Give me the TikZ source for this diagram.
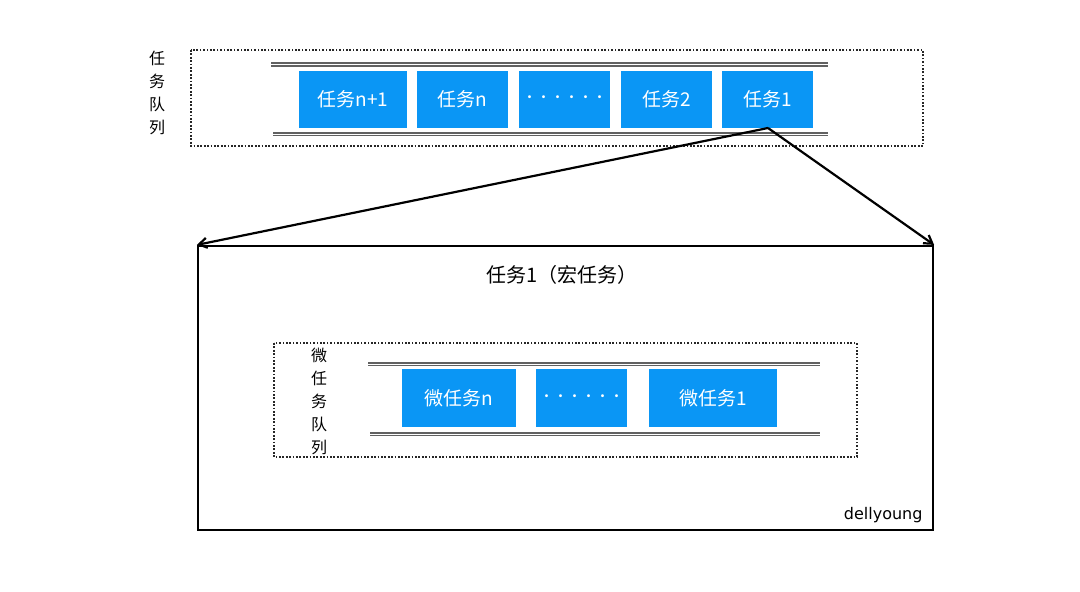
\documentclass[tikz,border=0pt]{standalone}
\usepackage{fontspec}
\newfontfamily\cjk{Noto Sans CJK SC}
\usetikzlibrary{arrows.meta}
\definecolor{taskblue}{HTML}{0A96F5}
\begin{document}
\begin{tikzpicture}[x=1pt,y=-1pt,
  task/.style={fill=taskblue,draw=none,text=white,font=\cjk\fontsize{19}{22}\selectfont,inner sep=0pt},
  dotstyle/.style={font=\cjk\fontsize{14}{22}\selectfont},
  dotbox/.style={draw=black!85,line width=2.4pt,dash pattern=on 1.7pt off 1.7pt},
  railout/.style={draw=black!62,line width=4.2pt},
  railin/.style={draw=white,line width=1pt},
  vlabel/.style={font=\cjk\fontsize{16}{23}\selectfont,align=center,inner sep=0pt},
  link/.style={line width=2.2pt,-{Straight Barb[length=8pt,width=10pt]}}]
\useasboundingbox (0,0) rectangle (1080,592);
\fill[white] (0,0) rectangle (1080,592);
% top queue
\draw[dotbox] (191,50) rectangle (923,146);
\coordinate (rt1) at (271,64.5); \coordinate (rt2) at (828,64.5);
\coordinate (rb1) at (273,134); \coordinate (rb2) at (828,134);
\draw[railout] (rt1) -- (rt2); \draw[railin] (rt1) -- (rt2);
\draw[railout] (rb1) -- (rb2); \draw[railin] (rb1) -- (rb2);
\node[vlabel] (ql) at (157,93) {任\\务\\队\\列};
\node[task,minimum width=108pt,minimum height=57pt] (t1) at (353,99.5) {任务n+1};
\node[task,minimum width=91pt,minimum height=57pt] (t2) at (462.5,99.5) {任务n};
\node[task,dotstyle,minimum width=91pt,minimum height=57pt] (t3) at (564.5,99.5) {······};
\node[task,minimum width=91pt,minimum height=57pt] (t4) at (666.5,99.5) {任务2};
\node[task,minimum width=91pt,minimum height=57pt] (t5) at (767.5,99.5) {任务1};
% big box
\node[draw=black,line width=2.2pt,minimum width=735pt,minimum height=284pt,inner sep=0pt] (big) at (565.5,388) {};
\coordinate (src) at (768,128);
\draw[link] (src) -- (big.north west);
\draw[link] (src) -- (big.north east);
\node[font=\cjk\fontsize{20}{22}\selectfont] (title) at (562,275) {任务1（宏任务）};
% micro queue
\draw[dotbox] (274,343) rectangle (857,457);
\coordinate (mt1) at (368,364); \coordinate (mt2) at (820,364);
\coordinate (mb1) at (370,434); \coordinate (mb2) at (820,434);
\draw[railout] (mt1) -- (mt2); \draw[railin] (mt1) -- (mt2);
\draw[railout] (mb1) -- (mb2); \draw[railin] (mb1) -- (mb2);
\node[vlabel] (ml) at (319,401) {微\\任\\务\\队\\列};
\node[task,minimum width=114pt,minimum height=58pt] (m1) at (459,398) {微任务n};
\node[task,dotstyle,minimum width=91pt,minimum height=58pt] (m2) at (581.5,398) {······};
\node[task,minimum width=128pt,minimum height=58pt] (m3) at (713,398) {微任务1};
\node[font=\fontspec{DejaVu Sans}\fontsize{16}{18}\selectfont,anchor=east] (wm) at (926,515) {dellyoung};
\end{tikzpicture}
\end{document}
